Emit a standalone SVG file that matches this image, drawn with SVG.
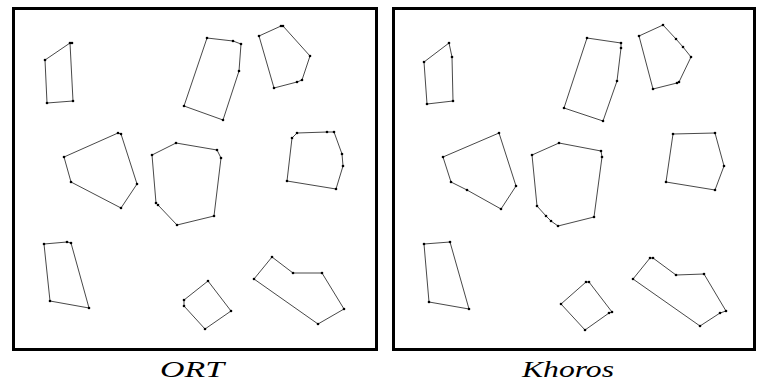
<svg xmlns="http://www.w3.org/2000/svg" width="763" height="386" viewBox="0 0 763 386">
<style>
.frame{fill:none;stroke:#000;stroke-width:3}
.poly{fill:none;stroke:#333;stroke-width:0.9;stroke-linejoin:round}
.dot{fill:#000}
.lbl{font-family:"Liberation Serif","DejaVu Serif",serif;font-style:italic;font-size:24px;fill:#000}
</style>
<defs>
<circle id="d" r="1.3" class="dot"/>
</defs>
<rect width="763" height="386" fill="#fff"/>
<g id="frames">
<rect class="frame" x="13.5" y="8.5" width="363" height="341"/>
<rect class="frame" x="393.5" y="8.5" width="361" height="341"/>
</g>
<g id="left-panel">
<g id="L-A"><polygon class="poly" points="70,43 45,60 47,103 73,101"/>
<use href="#d" x="70" y="43"/><use href="#d" x="72" y="43"/><use href="#d" x="45" y="60"/><use href="#d" x="47" y="103"/><use href="#d" x="73" y="101"/></g>
<g id="L-B"><polygon class="poly" points="207,38 233,41 241,44 239,71 223,120 184,106"/>
<use href="#d" x="207" y="38"/><use href="#d" x="233" y="41"/><use href="#d" x="241" y="44"/><use href="#d" x="239" y="71"/><use href="#d" x="223" y="120"/><use href="#d" x="184" y="106"/></g>
<g id="L-C"><polygon class="poly" points="259,36 281,26 283,26 310,56 302,80 297,82 274,88"/>
<use href="#d" x="259" y="36"/><use href="#d" x="281" y="26"/><use href="#d" x="283" y="26"/><use href="#d" x="310" y="56"/><use href="#d" x="302" y="80"/><use href="#d" x="297" y="82"/><use href="#d" x="274" y="88"/></g>
<g id="L-D"><polygon class="poly" points="64,157 118,133 121,134 137,184 121,208 71,182"/>
<use href="#d" x="64" y="157"/><use href="#d" x="118" y="133"/><use href="#d" x="121" y="134"/><use href="#d" x="137" y="184"/><use href="#d" x="121" y="208"/><use href="#d" x="71" y="182"/></g>
<g id="L-E"><polygon class="poly" points="152,155 176,143 217,150 221,158 214,216 177,225 158,205 156,203"/>
<use href="#d" x="152" y="155"/><use href="#d" x="176" y="143"/><use href="#d" x="217" y="150"/><use href="#d" x="221" y="158"/><use href="#d" x="214" y="216"/><use href="#d" x="177" y="225"/><use href="#d" x="158" y="205"/><use href="#d" x="156" y="203"/></g>
<g id="L-F"><polygon class="poly" points="292,138 297,133 327,132 334,132 342,154 343,166 336,189 287,181"/>
<use href="#d" x="292" y="138"/><use href="#d" x="297" y="133"/><use href="#d" x="327" y="132"/><use href="#d" x="334" y="132"/><use href="#d" x="342" y="154"/><use href="#d" x="343" y="166"/><use href="#d" x="336" y="189"/><use href="#d" x="287" y="181"/></g>
<g id="L-G"><polygon class="poly" points="44,244 67,242 71,243 89,308 50,301"/>
<use href="#d" x="44" y="244"/><use href="#d" x="67" y="242"/><use href="#d" x="71" y="243"/><use href="#d" x="89" y="308"/><use href="#d" x="50" y="301"/></g>
<g id="L-H"><polygon class="poly" points="208,281 231,311 205,329 184,306 184,300"/>
<use href="#d" x="208" y="281"/><use href="#d" x="231" y="311"/><use href="#d" x="205" y="329"/><use href="#d" x="184" y="306"/><use href="#d" x="184" y="300"/></g>
<g id="L-I"><polygon class="poly" points="272,257 293,273 322,273 344,309 318,324 254,279"/>
<use href="#d" x="272" y="257"/><use href="#d" x="293" y="273"/><use href="#d" x="322" y="273"/><use href="#d" x="344" y="309"/><use href="#d" x="318" y="324"/><use href="#d" x="254" y="279"/></g>
</g>
<g id="right-panel">
<g id="R-A"><polygon class="poly" points="449,43 424,62 427,104 453,101 452,57"/>
<use href="#d" x="449" y="43"/><use href="#d" x="424" y="62"/><use href="#d" x="427" y="104"/><use href="#d" x="453" y="101"/><use href="#d" x="452" y="57"/></g>
<g id="R-B"><polygon class="poly" points="587,38 621,43 621,48 617,81 603,121 564,108"/>
<use href="#d" x="587" y="38"/><use href="#d" x="621" y="43"/><use href="#d" x="621" y="48"/><use href="#d" x="617" y="81"/><use href="#d" x="603" y="121"/><use href="#d" x="564" y="108"/></g>
<g id="R-C"><polygon class="poly" points="639,36 663,25 676,39 683,47 691,57 679,82 677,83 653,89"/>
<use href="#d" x="639" y="36"/><use href="#d" x="663" y="25"/><use href="#d" x="676" y="39"/><use href="#d" x="683" y="47"/><use href="#d" x="691" y="57"/><use href="#d" x="679" y="82"/><use href="#d" x="677" y="83"/><use href="#d" x="653" y="89"/></g>
<g id="R-D"><polygon class="poly" points="443,157 499,133 516,186 501,209 467,190 451,182"/>
<use href="#d" x="443" y="157"/><use href="#d" x="499" y="133"/><use href="#d" x="516" y="186"/><use href="#d" x="501" y="209"/><use href="#d" x="467" y="190"/><use href="#d" x="451" y="182"/></g>
<g id="R-E"><polygon class="poly" points="532,155 559,143 601,151 602,157 594,217 558,226 551,221 546,216 537,206"/>
<use href="#d" x="532" y="155"/><use href="#d" x="559" y="143"/><use href="#d" x="601" y="151"/><use href="#d" x="602" y="157"/><use href="#d" x="594" y="217"/><use href="#d" x="558" y="226"/><use href="#d" x="551" y="221"/><use href="#d" x="546" y="216"/><use href="#d" x="537" y="206"/></g>
<g id="R-F"><polygon class="poly" points="673,134 715,133 724,166 715,190 666,182"/>
<use href="#d" x="673" y="134"/><use href="#d" x="715" y="133"/><use href="#d" x="724" y="166"/><use href="#d" x="715" y="190"/><use href="#d" x="666" y="182"/></g>
<g id="R-G"><polygon class="poly" points="424,244 450,242 469,309 429,302"/>
<use href="#d" x="424" y="244"/><use href="#d" x="450" y="242"/><use href="#d" x="469" y="309"/><use href="#d" x="429" y="302"/></g>
<g id="R-H"><polygon class="poly" points="586,282 589,282 612,312 609,313 585,330 561,304"/>
<use href="#d" x="586" y="282"/><use href="#d" x="589" y="282"/><use href="#d" x="612" y="312"/><use href="#d" x="609" y="313"/><use href="#d" x="585" y="330"/><use href="#d" x="561" y="304"/></g>
<g id="R-I"><polygon class="poly" points="650,258 653,258 676,275 704,274 726,311 720,313 700,326 633,279"/>
<use href="#d" x="650" y="258"/><use href="#d" x="653" y="258"/><use href="#d" x="676" y="275"/><use href="#d" x="704" y="274"/><use href="#d" x="726" y="311"/><use href="#d" x="720" y="313"/><use href="#d" x="700" y="326"/><use href="#d" x="633" y="279"/></g>
</g>
<g id="labels">
<text class="lbl" x="160" y="376.5" textLength="64" lengthAdjust="spacingAndGlyphs">ORT</text>
<text class="lbl" x="522" y="376.5" textLength="92" lengthAdjust="spacingAndGlyphs">Khoros</text>
</g>
</svg>
